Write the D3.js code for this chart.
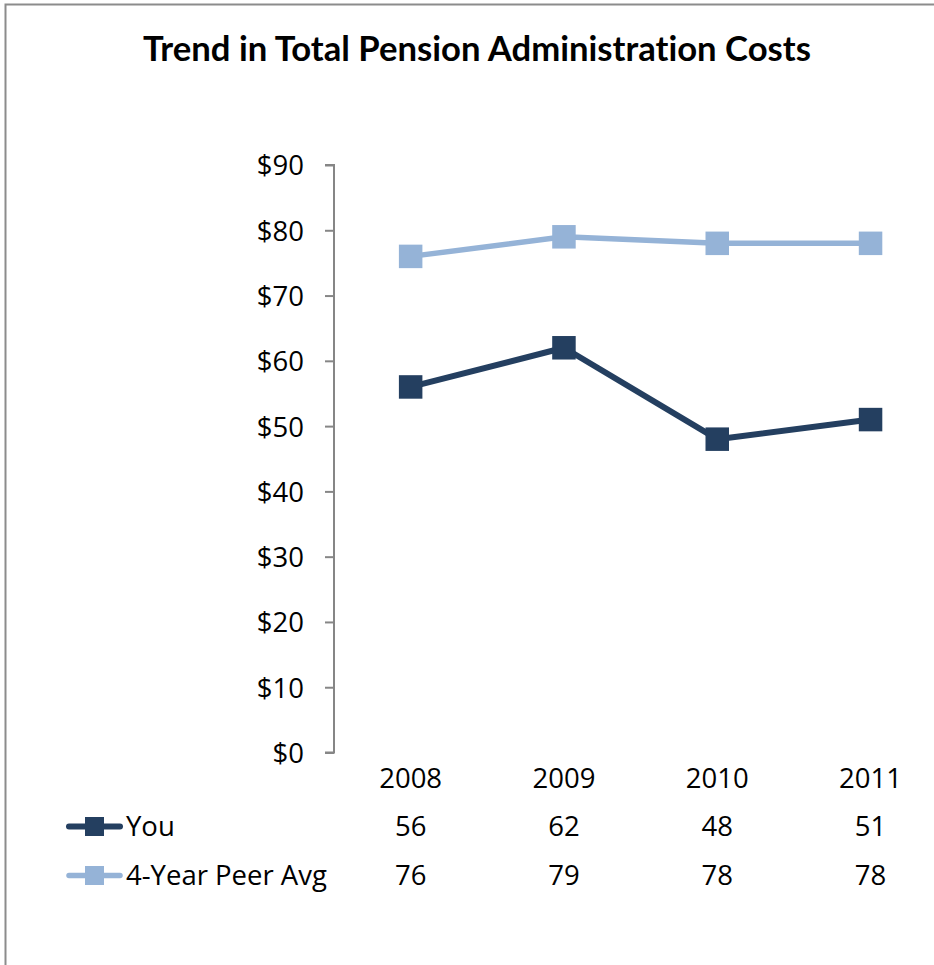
<!DOCTYPE html>
<html>
<head>
<meta charset="utf-8">
<script src="https://cdn.jsdelivr.net/npm/d3@7"></script>
<style>
  html, body { margin: 0; padding: 0; background: #fff; }
  svg { display: block; }
  text { font-family: "Open Sans", sans-serif; fill: #000; font-variant-ligatures: none; }
  text.title { font-family: Lato, sans-serif; font-variant-ligatures: none; font-feature-settings: "liga" 0, "dlig" 0; }
</style>
</head>
<body>
<svg id="chart" width="934" height="965"></svg>
<script>
// Chart data
const years = ["2008", "2009", "2010", "2011"];
const youValues = [56, 62, 48, 51];
const peerValues = [76, 79, 78, 78];
const seriesNames = ["You", "4-Year Peer Avg"];
const yTicks = [0, 10, 20, 30, 40, 50, 60, 70, 80, 90];
const titleText = "Trend in Total Pension Administration Costs";

const colors = { you: "#243F60", peer: "#95B3D7", axis: "#868686", frame: "#8c8c8c" };
const bodySize = 27.5;

const svg = d3.select("#chart");

// Outer chart frame (runs past the right and bottom edges)
svg.append("rect")
  .attr("x", 5.5).attr("y", 4.5)
  .attr("width", 1200).attr("height", 1200)
  .attr("fill", "none")
  .attr("stroke", colors.frame)
  .attr("stroke-width", 2);

// Title
const title = svg.append("text")
  .attr("class", "title")
  .attr("x", 477).attr("y", 61)
  .attr("text-anchor", "middle")
  .attr("font-weight", "bold")
  .attr("font-size", 32)
  .text(titleText);
// fit title to its width
const tw = title.node().getComputedTextLength();
title.attr("font-size", 32 * 668 / tw);

// Scales
const plotLeft = 334, band = 153.3;
const x = d3.scaleBand().domain(years).range([plotLeft, plotLeft + band * years.length]).padding(0);
const y = d3.scaleLinear().domain([0, 90]).range([752.5, 165]);
const cx = d => x(d) + x.bandwidth() / 2;

// Y axis
const yAxis = d3.axisLeft(y).tickValues(yTicks).tickSize(9).tickPadding(0).tickFormat(d => "$" + d);
const gy = svg.append("g").attr("transform", `translate(${plotLeft},0)`).call(yAxis);
gy.select(".domain").attr("stroke", colors.axis).attr("stroke-width", 2)
  .attr("d", `M-9,${y(90)}H0V${y(0)}H-9`);
gy.selectAll(".tick line").attr("stroke", colors.axis).attr("stroke-width", 2);
gy.selectAll(".tick text")
  .attr("x", -30).attr("dy", "0.36em")
  .attr("font-size", bodySize)
  .attr("font-family", "'Open Sans', sans-serif")
  .attr("fill", "#000");

// Year labels (data table header)
svg.append("g").selectAll("text").data(years).join("text")
  .attr("x", d => cx(d)).attr("y", 788)
  .attr("text-anchor", "middle").attr("font-size", bodySize)
  .text(d => d);

// Lines and markers
const series = [
  { name: seriesNames[0], values: youValues, color: colors.you, width: 6 },
  { name: seriesNames[1], values: peerValues, color: colors.peer, width: 5.5 }
];
const line = d3.line().x((d, i) => cx(years[i])).y(d => y(d));
const m = 23.5;

series.slice().reverse().forEach(s => {
  svg.append("path")
    .datum(s.values)
    .attr("d", line)
    .attr("fill", "none")
    .attr("stroke", s.color)
    .attr("stroke-width", s.width)
    .attr("stroke-linejoin", "round");
  svg.append("g").selectAll("rect").data(s.values).join("rect")
    .attr("x", (d, i) => cx(years[i]) - m / 2)
    .attr("y", d => y(d) - m / 2)
    .attr("width", m).attr("height", m)
    .attr("fill", s.color);
});

// Data table rows with legend keys
const rowBaselines = [836, 885];
series.forEach((s, r) => {
  const base = rowBaselines[r];
  const ky = base - 9.5;
  const g = svg.append("g");
  g.append("line")
    .attr("x1", 69).attr("x2", 120)
    .attr("y1", ky).attr("y2", ky)
    .attr("stroke", s.color).attr("stroke-width", s.width)
    .attr("stroke-linecap", "round");
  g.append("rect")
    .attr("x", 85).attr("y", ky - 9.5)
    .attr("width", 19).attr("height", 19)
    .attr("fill", s.color);
  g.append("text")
    .attr("x", 126).attr("y", base)
    .attr("font-size", bodySize)
    .text(s.name);
  g.selectAll("text.val").data(s.values).join("text")
    .attr("class", "val")
    .attr("x", (d, i) => cx(years[i])).attr("y", base)
    .attr("text-anchor", "middle").attr("font-size", bodySize)
    .text(d => d);
});
</script>
</body>
</html>
